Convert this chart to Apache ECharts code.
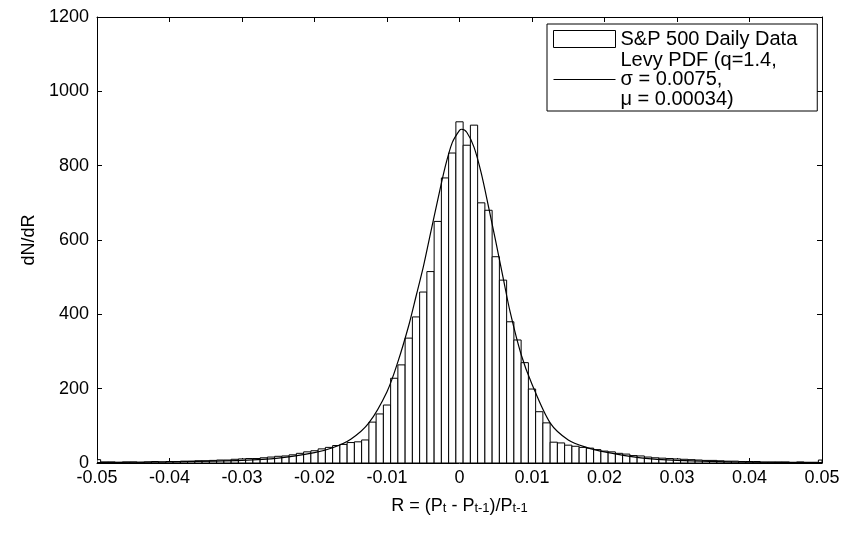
<!DOCTYPE html>
<html>
<head>
<meta charset="utf-8">
<script src="https://cdn.jsdelivr.net/npm/echarts@6/dist/echarts.min.js"></script>
<style>
  html, body { margin: 0; padding: 0; background: #fff; }
  #chart { width: 848px; height: 557px; }
</style>
</head>
<body>
<div id="chart"></div>
<script>
// bin centres -0.05 .. 0.05, step 0.001 (edge bins hold the tails)
const binStart = -0.05;
const binWidth = 0.001;
const counts = [
  9, 3, 3, 2, 3, 3, 2, 3, 4, 3,
  4, 4, 5, 5, 6, 6, 7, 8, 8, 10,
  11, 12, 12, 14, 16, 18, 19, 22, 26, 30,
  33, 38, 42, 47, 50, 55, 57, 62, 110, 132,
  156, 228, 264, 336, 393, 460, 515, 650, 767, 834,
  918,
  855, 909, 700, 680, 555, 492, 380, 331, 270, 199,
  138, 108, 56, 54, 48, 45, 42, 40, 36, 32,
  30, 26, 24, 20, 19, 16, 14, 13, 12, 11,
  10, 9, 8, 7, 7, 6, 5, 5, 4, 4,
  4, 3, 3, 3, 3, 2, 3, 2, 2, 8
];

// fitted Levy / q-Gaussian curve
const pdfR = [-0.05, -0.04, -0.03, -0.025, -0.02, -0.0175, -0.015, -0.0125, -0.01, -0.0085,
  -0.007, -0.006, -0.005, -0.004, -0.003, -0.002, -0.001, 0, 0.0003, 0.001,
  0.002, 0.003, 0.004, 0.005, 0.006, 0.007, 0.0085, 0.01, 0.0125, 0.015,
  0.0175, 0.02, 0.025, 0.03, 0.04, 0.05];
const pdfN = [1, 3, 7, 13, 28, 41, 64, 108, 192, 272,
  370, 448, 527, 618, 708, 795, 862, 895, 898, 890,
  850, 780, 690, 596, 500, 405, 292, 212, 108, 62,
  42, 30, 14, 7, 2, 1];

const xTicks = [-0.05, -0.04, -0.03, -0.02, -0.01, 0, 0.01, 0.02, 0.03, 0.04, 0.05];
const yTicks = [0, 200, 400, 600, 800, 1000, 1200];

const histData = counts.map((c, i) => [+(binStart + i * binWidth).toFixed(3), c]);
const pdfData = pdfR.map((r, i) => [r, pdfN[i]]);

const FONT = 'Liberation Sans, Arial, Helvetica, sans-serif';
const PDF_NAME = 'Levy PDF (q=1.4,\nσ = 0.0075,\nμ = 0.00034)';

let chart = echarts.init(document.getElementById('chart'));

const axisCommon = {
  axisLine: { show: true, onZero: false, lineStyle: { color: '#000', width: 1 } },
  axisTick: { show: true, inside: true, length: 5, lineStyle: { color: '#000' } },
  splitLine: { show: false }
};

chart.setOption({
  animation: false,
  backgroundColor: '#fff',
  grid: { left: 97, right: 26, top: 17, bottom: 94 },
  legend: {
    left: 547, top: 24,
    orient: 'vertical',
    backgroundColor: '#fff',
    borderColor: '#000', borderWidth: 1, borderRadius: 0,
    padding: [5, 20, 2, 6],
    itemGap: 1,
    itemWidth: 62, itemHeight: 17,
    textStyle: { fontFamily: FONT, fontSize: 20, color: '#000', lineHeight: 19.5 },
    data: [
      { name: 'S&P 500 Daily Data', icon: 'rect', itemStyle: { color: '#fff', borderColor: '#000', borderWidth: 1 } },
      { name: PDF_NAME, icon: 'path://M0,0 L62,0 L62,1.2 L0,1.2 Z' }
    ]
  },
  xAxis: [
    Object.assign({
      type: 'value', min: -0.05, max: 0.05, interval: 0.01,
      name: 'R = (P{s|t} - P{s|t-1})/P{s|t-1}',
      nameLocation: 'middle', nameGap: 30,
      nameTextStyle: {
        fontFamily: FONT, fontSize: 18, color: '#000',
        rich: {
          s: { fontFamily: FONT, fontSize: 13, color: '#000', lineHeight: 12, padding: [10, 0, 0, 0], verticalAlign: 'bottom' }
        }
      },
      axisLabel: {
        fontFamily: FONT, fontSize: 18, color: '#000', margin: 6,
        formatter: v => {
          const t = xTicks.find(x => Math.abs(x - v) < 1e-9);
          return t === undefined ? '' : String(t);
        }
      }
    }, axisCommon),
    Object.assign({
      type: 'value', min: -0.05, max: 0.05, interval: 0.01, position: 'top',
      axisLabel: { show: false }
    }, axisCommon)
  ],
  yAxis: [
    Object.assign({
      type: 'value', min: 0, max: 1200, interval: 200,
      name: 'dN/dR', nameLocation: 'middle', nameGap: 55,
      nameTextStyle: { fontFamily: FONT, fontSize: 18, color: '#000' },
      axisLabel: {
        fontFamily: FONT, fontSize: 18, color: '#000', margin: 8,
        formatter: v => (yTicks.indexOf(v) >= 0 ? String(v) : '')
      }
    }, axisCommon),
    Object.assign({
      type: 'value', min: 0, max: 1200, interval: 200, position: 'right',
      axisLabel: { show: false }
    }, axisCommon)
  ],
  series: [
    {
      name: 'S&P 500 Daily Data',
      type: 'custom',
      xAxisIndex: 0, yAxisIndex: 0,
      clip: true,
      renderItem: function (params, api) {
        const x = api.value(0);
        const v = api.value(1);
        const p0 = api.coord([x - binWidth / 2, v]);
        const p1 = api.coord([x + binWidth / 2, 0]);
        const rect = echarts.graphic.clipRectByRect(
          { x: p0[0], y: p0[1], width: p1[0] - p0[0], height: p1[1] - p0[1] },
          { x: params.coordSys.x, y: params.coordSys.y, width: params.coordSys.width, height: params.coordSys.height }
        );
        return rect && {
          type: 'rect',
          shape: rect,
          style: { fill: '#fff', stroke: '#000', lineWidth: 1 }
        };
      },
      encode: { x: 0, y: 1 },
      data: histData
    },
    {
      name: PDF_NAME,
      type: 'line',
      xAxisIndex: 0, yAxisIndex: 0,
      symbol: 'none',
      smooth: 0.3,
      lineStyle: { color: '#000', width: 1.2 },
      itemStyle: { color: '#000' },
      data: pdfData,
      z: 5
    }
  ]
});
</script>
</body>
</html>
